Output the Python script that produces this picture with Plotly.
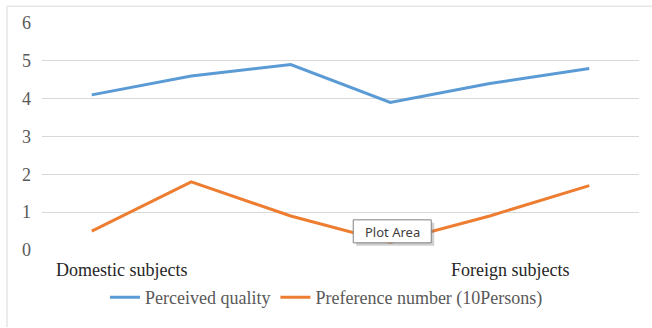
import plotly.graph_objects as go

categories = [0, 1, 2, 3, 4, 5]
perceived_quality = [4.1, 4.6, 4.9, 3.9, 4.4, 4.8]
preference_number = [0.5, 1.8, 0.9, 0.2, 0.9, 1.7]
y_ticks = [0, 1, 2, 3, 4, 5, 6]
group_labels = ["Domestic subjects", "Foreign subjects"]
group_label_pos = [0.30, 4.21]

SERIF = "Liberation Serif"

fig = go.Figure()
fig.add_trace(go.Scatter(x=categories, y=perceived_quality, mode="lines",
                         name="Perceived quality",
                         line=dict(color="#5B9BD5", width=3)))
fig.add_trace(go.Scatter(x=categories, y=preference_number, mode="lines",
                         name="Preference number (10Persons)",
                         line=dict(color="#ED7D31", width=3)))

for lab, xp in zip(group_labels, group_label_pos):
    fig.add_annotation(x=xp, xref="x", y=-0.09, yref="paper", text=lab,
                       showarrow=False, font=dict(family=SERIF, size=18, color="#262626"),
                       xanchor="center", yanchor="middle")

# Border of the chart area (top and left edges)
fig.add_shape(type="line", xref="paper", yref="paper", x0=-0.0586, x1=1.03, y0=1.074, y1=1.074,
              line=dict(color="#d9d9d9", width=1))
fig.add_shape(type="line", xref="paper", yref="paper", x0=-0.0586, x1=-0.0586, y0=1.074, y1=-0.34,
              line=dict(color="#d9d9d9", width=1))

# "Plot Area" tooltip
tip_x, tip_y = 3.02, 0.48
fig.add_shape(type="rect", xref="x", yref="y", xsizemode="pixel", ysizemode="pixel",
              xanchor=tip_x, yanchor=tip_y, x0=-36, x1=42, y0=-14, y1=9,
              fillcolor="rgba(120,120,120,0.35)", line=dict(width=0))
fig.add_shape(type="rect", xref="x", yref="y", xsizemode="pixel", ysizemode="pixel",
              xanchor=tip_x, yanchor=tip_y, x0=-39, x1=39, y0=-11, y1=12,
              fillcolor="white", line=dict(color="#808080", width=1))
fig.add_annotation(x=tip_x, y=tip_y, xref="x", yref="y", text="Plot Area", showarrow=False,
                   font=dict(family="Noto Sans, sans-serif", size=13, color="#404040"),
                   xanchor="center", yanchor="middle")

fig.update_layout(
    width=652, height=328,
    margin=dict(l=42, r=13, t=23, b=76),
    paper_bgcolor="white", plot_bgcolor="white",
    showlegend=True,
    legend=dict(orientation="h", x=0.4765, xanchor="center", y=-0.21, yanchor="middle",
                font=dict(family=SERIF, size=18, color="#595959"),
                itemwidth=30, tracegroupgap=0),
    xaxis=dict(range=[-0.5, 5.5], showticklabels=False, showgrid=False, zeroline=False,
               showline=False, ticks=""),
    yaxis=dict(range=[0, 6], tickvals=y_ticks, showgrid=True, gridcolor="#d9d9d9",
               gridwidth=1, zeroline=False, showline=False, ticks="",
               tickfont=dict(family=SERIF, size=18, color="#595959"), ticklabelstandoff=10),
)

fig.write_html("out.html")
